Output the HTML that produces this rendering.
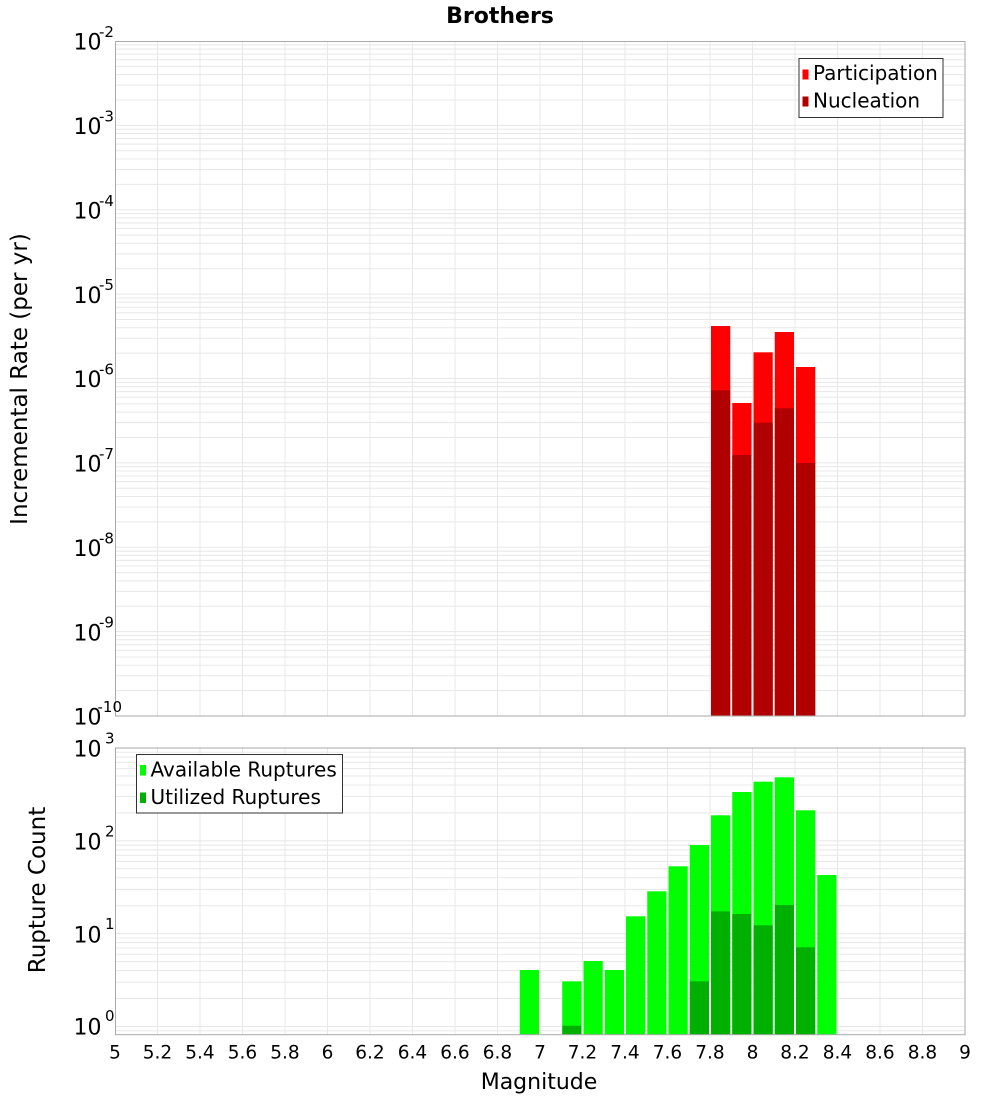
<!DOCTYPE html>
<html>
<head>
<meta charset="utf-8">
<style>
html,body{margin:0;padding:0;background:#fff;}
svg{display:block;}
text{font-family:"DejaVu Sans","Liberation Sans",sans-serif;fill:#000;}
</style>
</head>
<body>
<svg width="1000" height="1100" viewBox="0 0 1000 1100" xmlns="http://www.w3.org/2000/svg">
<rect x="0" y="0" width="1000" height="1100" fill="#fff"/>

<!-- Title -->
<text x="500" y="23" font-size="22" font-weight="bold" text-anchor="middle">Brothers</text>

<!-- ===== TOP PLOT ===== -->
<g stroke="#e8e8e8" stroke-width="1" fill="none">
<path d="M115,44.87H965M115,49.18H965M115,54.07H965M115,59.72H965M115,66.40H965M115,74.58H965M115,85.12H965M115,99.98H965
M115,125.375H965M115,129.25H965M115,133.56H965M115,138.45H965M115,144.10H965M115,150.78H965M115,158.96H965M115,169.50H965M115,184.36H965
M115,209.75H965M115,213.62H965M115,217.93H965M115,222.82H965M115,228.47H965M115,235.15H965M115,243.33H965M115,253.87H965M115,268.73H965
M115,294.125H965M115,298.00H965M115,302.31H965M115,307.20H965M115,312.85H965M115,319.53H965M115,327.71H965M115,338.25H965M115,353.11H965
M115,378.5H965M115,382.37H965M115,386.68H965M115,391.57H965M115,397.22H965M115,403.90H965M115,412.08H965M115,422.62H965M115,437.48H965
M115,462.875H965M115,466.75H965M115,471.06H965M115,475.95H965M115,481.60H965M115,488.28H965M115,496.46H965M115,507.00H965M115,521.86H965
M115,547.25H965M115,551.12H965M115,555.43H965M115,560.32H965M115,565.97H965M115,572.65H965M115,580.83H965M115,591.37H965M115,606.23H965
M115,631.625H965M115,635.50H965M115,639.81H965M115,644.70H965M115,650.35H965M115,657.03H965M115,665.21H965M115,675.75H965M115,690.61H965"/>
<path d="M157.5,41V716M200,41V716M242.5,41V716M285,41V716M327.5,41V716M370,41V716M412.5,41V716M455,41V716M497.5,41V716M540,41V716M582.5,41V716M625,41V716M667.5,41V716M710,41V716M752.5,41V716M795,41V716M837.5,41V716M880,41V716M922.5,41V716"/>
</g>

<!-- red bars: participation -->
<g fill="#ff0000">
<rect x="711" y="326" width="19.25" height="390"/>
<rect x="732.25" y="403" width="19.25" height="313"/>
<rect x="753.5" y="352.3" width="19.25" height="363.7"/>
<rect x="774.75" y="332" width="19.25" height="384"/>
<rect x="796" y="367" width="19.25" height="349"/>
</g>
<!-- nucleation -->
<g fill="#b00000">
<rect x="711" y="390.3" width="19.25" height="325.7"/>
<rect x="732.25" y="455" width="19.25" height="261"/>
<rect x="753.5" y="422.7" width="19.25" height="293.3"/>
<rect x="774.75" y="408.3" width="19.25" height="307.7"/>
<rect x="796" y="463" width="19.25" height="253"/>
</g>

<rect x="115.5" y="41.5" width="849.5" height="674.5" fill="none" stroke="#aaaaaa" stroke-width="1"/>

<!-- top y labels -->
<g font-size="22">
<text x="73.5" y="49.7">10</text>
<text x="73.5" y="134.1">10</text>
<text x="73.5" y="218.5">10</text>
<text x="73.5" y="302.8">10</text>
<text x="73.5" y="387.2">10</text>
<text x="73.5" y="471.6">10</text>
<text x="73.5" y="556">10</text>
<text x="73.5" y="640.3">10</text>
<text x="73.5" y="724.7">10</text>
</g>
<g font-size="15">
<text x="99" y="37">-2</text>
<text x="99" y="121.4">-3</text>
<text x="99" y="205.8">-4</text>
<text x="99" y="290.1">-5</text>
<text x="99" y="374.5">-6</text>
<text x="99" y="458.9">-7</text>
<text x="99" y="543.3">-8</text>
<text x="99" y="627.6">-9</text>
<text x="97.5" y="712">-10</text>
</g>

<!-- top legend -->
<rect x="799" y="58.5" width="144" height="59" fill="#fff" stroke="#333" stroke-width="1"/>
<rect x="802.5" y="69.5" width="6" height="10" fill="#ff0000"/>
<rect x="802.5" y="96.5" width="6" height="10" fill="#b00000"/>
<text x="813" y="80" font-size="20">Participation</text>
<text x="813" y="107.3" font-size="20">Nucleation</text>

<!-- y title top -->
<text transform="translate(27,379) rotate(-90)" font-size="23" text-anchor="middle">Incremental Rate (per yr)</text>

<!-- ===== BOTTOM PLOT ===== -->
<g stroke="#e8e8e8" stroke-width="1" fill="none">
<path d="M115,752.27H965M115,757.00H965M115,762.38H965M115,768.59H965M115,775.94H965M115,784.94H965M115,796.54H965M115,812.89H965
M115,840.83H965M115,845.10H965M115,849.83H965M115,855.21H965M115,861.42H965M115,868.77H965M115,877.77H965M115,889.37H965M115,905.72H965
M115,933.67H965M115,937.94H965M115,942.67H965M115,948.05H965M115,954.26H965M115,961.61H965M115,970.61H965M115,982.21H965M115,998.56H965
M115,1026.5H965M115,1030.75H965"/>
<path d="M157.5,748V1035M200,748V1035M242.5,748V1035M285,748V1035M327.5,748V1035M370,748V1035M412.5,748V1035M455,748V1035M497.5,748V1035M540,748V1035M582.5,748V1035M625,748V1035M667.5,748V1035M710,748V1035M752.5,748V1035M795,748V1035M837.5,748V1035M880,748V1035M922.5,748V1035"/>
</g>

<!-- available -->
<g fill="#00ff00">
<rect x="519.75" y="970" width="19.25" height="64.7"/>
<rect x="562.25" y="981.3" width="19.25" height="53.4"/>
<rect x="583.5" y="961" width="19.25" height="73.7"/>
<rect x="604.75" y="970" width="19.25" height="64.7"/>
<rect x="626" y="916.3" width="19.25" height="118.4"/>
<rect x="647.25" y="891.3" width="19.25" height="143.4"/>
<rect x="668.5" y="866.3" width="19.25" height="168.4"/>
<rect x="689.75" y="845" width="19.25" height="189.7"/>
<rect x="711" y="815.3" width="19.25" height="219.4"/>
<rect x="732.25" y="792" width="19.25" height="242.7"/>
<rect x="753.5" y="781.7" width="19.25" height="253"/>
<rect x="774.75" y="777.3" width="19.25" height="257.4"/>
<rect x="796" y="810.3" width="19.25" height="224.4"/>
<rect x="817.25" y="875" width="19.25" height="159.7"/>
</g>
<!-- utilized -->
<g fill="#00b000">
<rect x="562.25" y="1025.7" width="19.25" height="9"/>
<rect x="689.75" y="981.3" width="19.25" height="53.4"/>
<rect x="711" y="911.3" width="19.25" height="123.4"/>
<rect x="732.25" y="914" width="19.25" height="120.7"/>
<rect x="753.5" y="925.3" width="19.25" height="109.4"/>
<rect x="774.75" y="905" width="19.25" height="129.7"/>
<rect x="796" y="947.3" width="19.25" height="87.4"/>
</g>

<rect x="115.5" y="748" width="849.5" height="286.7" fill="none" stroke="#aaaaaa" stroke-width="1"/>

<!-- bottom y labels -->
<g font-size="22">
<text x="73.5" y="756.7">10</text>
<text x="73.5" y="849.5">10</text>
<text x="73.5" y="942.4">10</text>
<text x="73.5" y="1034.3">10</text>
</g>
<g font-size="15" text-anchor="end">
<text x="114.5" y="743.5">3</text>
<text x="114.5" y="836.3">2</text>
<text x="114.5" y="929.2">1</text>
<text x="114.5" y="1021">0</text>
</g>

<!-- bottom legend -->
<rect x="136.5" y="754.5" width="206" height="58.5" fill="#fff" stroke="#333" stroke-width="1"/>
<rect x="140" y="765" width="6" height="10.5" fill="#00ff00"/>
<rect x="140" y="792.5" width="6" height="10.5" fill="#00b000"/>
<text x="150.5" y="776.7" font-size="20">Available Ruptures</text>
<text x="150.5" y="804" font-size="20">Utilized Ruptures</text>

<!-- y title bottom -->
<text transform="translate(45,890) rotate(-90)" font-size="23" text-anchor="middle">Rupture Count</text>

<!-- x tick labels -->
<g font-size="18.5" text-anchor="middle">
<text x="115" y="1058.5">5</text>
<text x="157.5" y="1058.5">5.2</text>
<text x="200" y="1058.5">5.4</text>
<text x="242.5" y="1058.5">5.6</text>
<text x="285" y="1058.5">5.8</text>
<text x="327.5" y="1058.5">6</text>
<text x="370" y="1058.5">6.2</text>
<text x="412.5" y="1058.5">6.4</text>
<text x="455" y="1058.5">6.6</text>
<text x="497.5" y="1058.5">6.8</text>
<text x="540" y="1058.5">7</text>
<text x="582.5" y="1058.5">7.2</text>
<text x="625" y="1058.5">7.4</text>
<text x="667.5" y="1058.5">7.6</text>
<text x="710" y="1058.5">7.8</text>
<text x="752.5" y="1058.5">8</text>
<text x="795" y="1058.5">8.2</text>
<text x="837.5" y="1058.5">8.4</text>
<text x="880" y="1058.5">8.6</text>
<text x="922.5" y="1058.5">8.8</text>
<text x="965" y="1058.5">9</text>
</g>

<!-- x title -->
<text x="539" y="1089" font-size="22" text-anchor="middle">Magnitude</text>
</svg>
</body>
</html>
